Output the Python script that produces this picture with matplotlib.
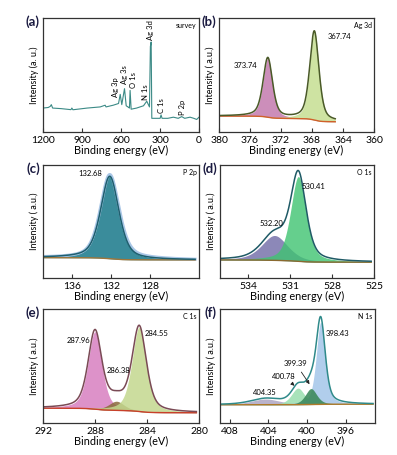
import numpy as np
from matplotlib import pyplot as plt

plt.rcParams["font.family"] = ["Lato", "DejaVu Sans"]

# (a) survey: binding energy / intensity points
survey_be = [1200, 1160, 1144, 1136, 1126, 1060, 985, 978, 970, 860, 760, 722, 715, 660,
             619, 606, 594, 573, 560, 540, 535, 530, 522, 480, 427, 402, 381, 374, 368,
             363, 330, 299, 292, 284, 240, 197, 160, 133, 110, 69, 40, 18, 0]
survey_int = [0.21, 0.215, 0.225, 0.24, 0.21, 0.205, 0.196, 0.21, 0.195, 0.21, 0.22, 0.235,
              0.22, 0.235, 0.25, 0.33, 0.24, 0.38, 0.23, 0.215, 0.21, 0.365, 0.20, 0.21,
              0.23, 0.27, 0.22, 0.75, 0.79, 0.12, 0.12, 0.12, 0.15, 0.12, 0.12, 0.13,
              0.12, 0.135, 0.12, 0.13, 0.12, 0.11, 0.13]
survey_tags = ["Ag 3p", "Ag 3s", "O 1s", "N 1s", "Ag 3d", "C 1s", "P 2p"]
survey_tag_be = [645, 575, 504, 415, 371, 287, 125]
survey_tag_y = [0.31, 0.42, 0.39, 0.28, 0.81, 0.17, 0.15]

# fitted regions: component centres, heights above background, FWHM
ag_c = [373.7, 367.7]
ag_h = [0.52, 0.78]
ag_w = [1.45, 1.4]
ag_bg = [0.14, 0.09]
ag_labels = ["373.74", "367.74"]

p_c = [132.15]
p_h = [0.73]
p_w = [2.2]
p_bg = [0.18, 0.16]
p_labels = ["132.68"]

o_c = [532.1, 530.4]
o_h = [0.22, 0.75]
o_w = [2.2, 1.3]
o_bg = [0.16, 0.14]
o_labels = ["532.20", "530.41"]

c_c = [288.0, 286.35, 284.6]
c_h = [0.68, 0.08, 0.74]
c_w = [1.25, 1.4, 1.3]
c_bg = [0.13, 0.09]
c_labels = ["287.96", "286.38", "284.55"]

n_c = [404.3, 400.95, 398.6, 399.6]
n_h = [0.05, 0.145, 0.72, 0.14]
n_w = [3.6, 1.6, 1.1, 1.4]
n_bg = [0.16, 0.165]
n_labels = ["404.35", "400.78", "399.39", "398.43"]


def pv(x, c, h, w, eta=0.5):
    g = np.exp(-4 * np.log(2) * ((x - c) / w) ** 2)
    lo = 1 / (1 + 4 * ((x - c) / w) ** 2)
    return h * (eta * lo + (1 - eta) * g)


def fitted(ax, xr, cs, hs, ws, bg, colors, env_color, bg_color, alpha=0.85):
    x = np.linspace(xr[0], xr[1], 600)
    comps = [pv(x, c, h, w) for c, h, w in zip(cs, hs, ws)]
    total = np.sum(comps, axis=0)
    # shirley-like step background
    step = np.cumsum(total[::-1])[::-1]
    step = step / step[0]
    base = bg[1] + (bg[0] - bg[1]) * step
    for comp, col in zip(comps, colors):
        ax.fill_between(x, base, base + comp, color=col, alpha=alpha, lw=0)
    ax.plot(x, base, color=bg_color, lw=1.0)
    ax.plot(x, base + total, color=env_color, lw=1.1)
    return x, base + total


def style(ax, xlim, ticks, tag, letter, ylabel="Intensity ( a.u.)"):
    ax.set_xlim(*xlim)
    ax.set_ylim(0, 1)
    ax.set_xticks(ticks)
    ax.set_yticks([])
    ax.tick_params(axis="x", direction="in", length=3, labelsize=7.5, pad=3, color="#333333")
    for s in ax.spines.values():
        s.set_color("#333333")
        s.set_linewidth(0.9)
    ax.set_xlabel("Binding energy (eV)", fontsize=7.8, labelpad=-0.5)
    ax.set_ylabel(ylabel, fontsize=6.5, labelpad=3)
    ax.text(0.985, 0.965, tag, transform=ax.transAxes, ha="right", va="top", fontsize=5)
    ax.text(-0.02, 0.97, letter, transform=ax.transAxes, ha="right", va="center",
            fontsize=9.5, fontweight="bold", color="#1a1a40")


fig = plt.figure(figsize=(3.97, 4.55), dpi=100)
W, H = 397, 455


def add_axes(l, r, t, b):
    return fig.add_axes([l / W, 1 - b / H, (r - l) / W, (b - t) / H])


ax_a = add_axes(43, 199, 18, 132)
ax_b = add_axes(219, 374, 18, 132)
ax_c = add_axes(43, 199, 165, 278)
ax_d = add_axes(220, 374, 165, 278)
ax_e = add_axes(43, 199, 309, 423)
ax_f = add_axes(220, 375, 309, 423)

# (a) survey
ax_a.plot(survey_be, survey_int, color="#3b8a86", lw=0.8)
for t, xb, yb in zip(survey_tags, survey_tag_be, survey_tag_y):
    ax_a.text(xb, yb, t, rotation=90, ha="center", va="bottom", fontsize=5.5)
style(ax_a, (1200, 0), [1200, 900, 600, 300, 0], "survey", "(a)", "Intensity (a. u.)")

# (b) Ag 3d
fitted(ax_b, (380, 365), ag_c, ag_h, ag_w, ag_bg, ["#c47aae", "#c6df92"], "#4a5a28", "#d0602a")
ax_b.text(376.6, 0.56, ag_labels[0], fontsize=5.5, ha="center")
ax_b.text(364.5, 0.82, ag_labels[1], fontsize=5.5, ha="center")
style(ax_b, (380, 360), [380, 376, 372, 368, 364, 360], "Ag 3d", "(b)")

# (c) P 2p
xp = np.linspace(139, 123.4, 400)
ax_c.plot(xp, p_bg[1] + (p_bg[0] - p_bg[1]) * (xp - 123.4) / 15.6 + pv(xp, p_c[0], p_h[0] * 1.02, p_w[0] * 1.04),
          color="#a9c6e6", lw=2.2)
fitted(ax_c, (139, 123.4), p_c, p_h, p_w, p_bg, ["#2f8696"], "#1e5f6e", "#a0763a", alpha=0.95)
ax_c.text(134.2, 0.9, p_labels[0], fontsize=5.5, ha="center")
style(ax_c, (139, 123), [136, 132, 128], "P 2p", "(c)")

# (d) O 1s
fitted(ax_d, (536, 525.2), o_c, o_h, o_w, o_bg, ["#6f6aa6", "#3fc471"], "#1f5a66", "#8a6a30", alpha=0.8)
ax_d.text(532.3, 0.46, o_labels[0], fontsize=5.5, ha="center")
ax_d.text(529.3, 0.79, o_labels[1], fontsize=5.5, ha="center")
style(ax_d, (536, 525), [534, 531, 528, 525], "O 1s", "(d)")

# (e) C 1s
fitted(ax_e, (292, 280.2), c_c, c_h, c_w, c_bg, ["#d77fc0", "#8a6a3a", "#c3d88e"], "#7a4a55", "#c8402a", alpha=0.85)
ax_e.text(289.3, 0.7, c_labels[0], fontsize=5.5, ha="center")
ax_e.text(286.2, 0.44, c_labels[1], fontsize=5.5, ha="center")
ax_e.text(283.3, 0.76, c_labels[2], fontsize=5.5, ha="center")
style(ax_e, (292, 280), [292, 288, 284, 280], "C 1s", "(e)")

# (f) N 1s
fitted(ax_f, (409, 393.2), n_c, n_h, n_w, n_bg, ["#b3abc6", "#9fe0b3", "#a9c9ea", "#3d8a5c"], "#2f8a8a", "#b07a2a", alpha=0.9)
ax_f.text(404.4, 0.245, n_labels[0], fontsize=5.5, ha="center")
ax_f.annotate(n_labels[1], xy=(401.1, 0.31), xytext=(402.4, 0.39), fontsize=5.5, ha="center",
              arrowprops=dict(arrowstyle="-|>", color="#222222", lw=0.6, mutation_scale=5))
ax_f.annotate(n_labels[2], xy=(399.6, 0.32), xytext=(401.2, 0.5), fontsize=5.5, ha="center",
              arrowprops=dict(arrowstyle="-|>", color="#222222", lw=0.6, mutation_scale=5))
ax_f.text(396.9, 0.76, n_labels[3], fontsize=5.5, ha="center")
style(ax_f, (409, 393), [408, 404, 400, 396], "N 1s", "(f)")

fig.savefig("out.png", dpi=100)
